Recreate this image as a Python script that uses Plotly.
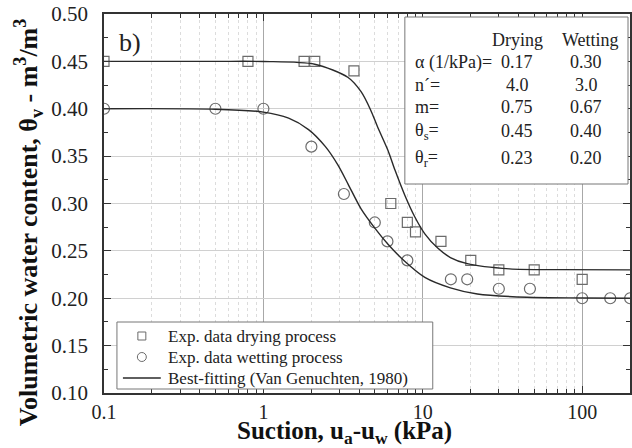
import plotly.graph_objects as go

# ---- experimental data ----
dry_x = [0.1, 0.8, 1.8, 2.1, 3.7, 6.3, 8.0, 9.0, 13, 20, 30, 50, 100]
dry_y = [0.45, 0.45, 0.45, 0.45, 0.44, 0.30, 0.28, 0.27, 0.26, 0.24, 0.23, 0.23, 0.22]

wet_x = [0.1, 0.5, 1.0, 2.0, 3.2, 5.0, 6.0, 8.0, 15, 19, 30, 47, 100, 150, 200]
wet_y = [0.40, 0.40, 0.40, 0.36, 0.31, 0.28, 0.26, 0.24, 0.22, 0.22, 0.21, 0.21, 0.20, 0.20, 0.20]

# ---- best-fitting curves ----
fit_dry_x = [0.1, 0.5, 1.0, 2.1, 3.4, 4.1, 4.7, 5.2, 6.05, 6.7, 7.7, 8.9, 10.3, 12.4, 14.9, 19, 35, 72, 200]
fit_dry_y = [0.45, 0.45, 0.4499, 0.447, 0.433, 0.418, 0.399, 0.381, 0.356, 0.335, 0.309, 0.286, 0.268, 0.253, 0.243, 0.2365, 0.231, 0.2302, 0.23]

fit_wet_x = [0.1, 0.5, 1.0, 1.44, 1.92, 2.45, 2.95, 3.41, 4.11, 5.0, 6.05, 7.7, 10.3, 14.9, 22, 45, 100, 200]
fit_wet_y = [0.40, 0.3995, 0.3965, 0.390, 0.378, 0.360, 0.340, 0.320, 0.294, 0.274, 0.257, 0.239, 0.222, 0.211, 0.2045, 0.201, 0.2003, 0.20]

# ---- parameter table ----
param_labels = ["α (1/kPa)=", "n´=", "m=", "θ<sub>s</sub>=", "θ<sub>r</sub>="]
param_drying = ["0.17", "4.0", "0.75", "0.45", "0.23"]
param_wetting = ["0.30", "3.0", "0.67", "0.40", "0.20"]

legend_labels = ["Exp. data drying process", "Exp. data wetting process",
                 "Best-fitting (Van Genuchten, 1980)"]

x_tickvals = [0.1, 1, 10, 100]
x_ticktext = ["0.1", "1", "10", "100"]
x_minor = [v * d for d in (0.1, 1, 10) for v in range(2, 10)] + [200]

FONT = "Liberation Serif, Times New Roman, serif"
MK = "#6b6b6b"
LN = "#2a2a2a"
TXT = "#222"

fig = go.Figure()
fig.add_trace(go.Scatter(x=dry_x, y=dry_y, mode="markers", name=legend_labels[0],
                         marker=dict(symbol="square-open", size=10, color=MK, line=dict(width=1.2))))
fig.add_trace(go.Scatter(x=wet_x, y=wet_y, mode="markers", name=legend_labels[1],
                         marker=dict(symbol="circle-open", size=11, color=MK, line=dict(width=1.2))))
fig.add_trace(go.Scatter(x=fit_dry_x, y=fit_dry_y, mode="lines", name=legend_labels[2],
                         line=dict(color=LN, width=1.4, shape="spline", smoothing=0.8)))
fig.add_trace(go.Scatter(x=fit_wet_x, y=fit_wet_y, mode="lines", name=legend_labels[2],
                         line=dict(color=LN, width=1.4, shape="spline", smoothing=0.8)))

W, H = 632, 448
L, R, T, B = 104, 0, 14, 55
pw, ph = W - L - R, H - T - B

def px(x):
    return (x - L) / pw

def py(y):
    return (H - B - y) / ph

def txt(text, x, y, size, xanchor="center", **kw):
    d = dict(text=text, x=px(x), y=py(y), xref="paper", yref="paper", showarrow=False,
             xanchor=xanchor, yanchor="middle", font=dict(family=FONT, size=size, color=TXT))
    d.update(kw)
    return d

ann = []
# parameter table
ann.append(txt("Drying", 519, 40, 18))
ann.append(txt("Wetting", 592, 40, 18))
rows_y = [62, 85, 107, 131, 158]
for lab, d, w, ry in zip(param_labels, param_drying, param_wetting, rows_y):
    ann.append(txt(lab, 414, ry, 18, xanchor="left"))
    ann.append(txt(d, 519, ry, 18))
    ann.append(txt(w, 588, ry, 18))

# legend texts
leg_y = [336, 357, 378]
for lab, ly in zip(legend_labels, leg_y):
    ann.append(txt(lab, 166, ly, 17, xanchor="left"))

ann.append(txt("b)", 130, 42, 26))
ann.append(txt("<b>Suction, u<sub>a</sub>-u<sub>w</sub> (kPa)</b>", 345, 432, 25, font=dict(family=FONT, size=25, color="#111")))
ann.append(txt("<b>Volumetric water content, θ<sub>v</sub> - m<sup>3</sup>/m<sup>3</sup></b>", 28, 222, 26,
               textangle=-90, font=dict(family=FONT, size=26, color="#111")))

shapes = [
    # parameter box
    dict(type="rect", xref="paper", yref="paper", x0=px(406), x1=px(630), y0=py(184), y1=py(17),
         line=dict(color="#777", width=1), fillcolor="white", layer="above"),
    # legend box
    dict(type="rect", xref="paper", yref="paper", x0=px(117), x1=px(434), y0=py(389), y1=py(322),
         line=dict(color="#777", width=1), fillcolor="white", layer="above"),
    # legend symbols
    dict(type="rect", xref="paper", yref="paper", x0=px(138), x1=px(146), y0=py(340), y1=py(332),
         line=dict(color=MK, width=1), fillcolor="rgba(0,0,0,0)", layer="above"),
    dict(type="circle", xref="paper", yref="paper", x0=px(137.5), x1=px(146.5), y0=py(361.5), y1=py(352.5),
         line=dict(color=MK, width=1), fillcolor="rgba(0,0,0,0)", layer="above"),
    dict(type="line", xref="paper", yref="paper", x0=px(123), x1=px(161), y0=py(378), y1=py(378),
         line=dict(color=LN, width=1.4), layer="above"),
]

fig.update_layout(
    width=W, height=H, margin=dict(l=L, r=R, t=T, b=B),
    paper_bgcolor="white", plot_bgcolor="white",
    font=dict(family=FONT, size=20, color=TXT),
    annotations=ann, shapes=shapes, showlegend=False,
)

fig.update_xaxes(type="log", range=[-1, 2.30], tickvals=x_tickvals, ticktext=x_ticktext,
                 ticks="inside", ticklen=7, tickcolor="#333", showline=True, linecolor="#333", linewidth=1.5,
                 mirror="ticks", showgrid=True, gridcolor="#a8a8a8", gridwidth=1, zeroline=False,
                 minor=dict(tickvals=x_minor, ticks="inside", ticklen=4, tickcolor="#333",
                            showgrid=True, gridcolor="#dcdcdc", griddash="dot", gridwidth=1),
                 tickfont=dict(family=FONT, size=20, color=TXT), ticklabelstandoff=0)
fig.update_yaxes(range=[0.10, 0.50], dtick=0.05, tick0=0.10, tickformat=".2f",
                 ticks="inside", ticklen=7, tickcolor="#333", showline=True, linecolor="#333", linewidth=1.5,
                 mirror="ticks", showgrid=True, gridcolor="#d0d0d0", gridwidth=1, zeroline=False,
                 minor=dict(dtick=0.025, ticks="inside", ticklen=4, tickcolor="#333", showgrid=False),
                 tickfont=dict(family=FONT, size=21, color=TXT), ticklabelstandoff=10)

fig.write_html("out.html")
